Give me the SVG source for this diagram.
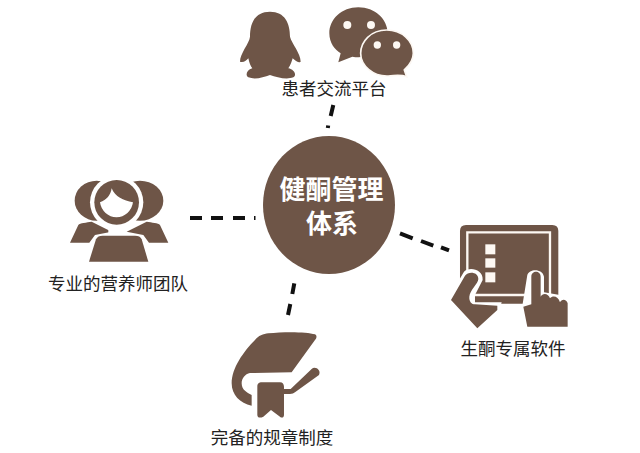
<svg xmlns="http://www.w3.org/2000/svg" width="640" height="453" viewBox="0 0 640 453">
<style>
.b{fill:#6e5547}
.w{fill:#fff}
.c{fill:#fdf8f3}
.d{stroke:#111;stroke-width:4;fill:none}
.l{font-family:"Noto Sans CJK SC","Liberation Sans",sans-serif;font-size:17.500px;fill:#222;text-anchor:middle}
.t{font-family:"Noto Sans CJK SC","Liberation Sans",sans-serif;font-size:26px;font-weight:700;fill:#fff;text-anchor:middle}
</style>
<rect width="640" height="453" fill="#fff"/>
<g id="connectors">
<path class="d" d="M333.300 105L330.700 116M328.200 125.500L327.800 128"/>
<path class="d" d="M190 218H202M211 218H223M233 218H245M254 218H255.500"/>
<path class="d" d="M400 233.300L412.700 238.300M421 241L433.300 245.700M441 247.300L449 250.300"/>
<path class="d" d="M294.300 283.300L292.300 294M290.300 304L288 315"/>
</g>
<g id="center">
<ellipse class="b" cx="329" cy="205" rx="66" ry="69"/>
<text class="t" x="331.500" y="199">健酮管理</text>
<text class="t" x="332" y="233">体系</text>
</g>
<g id="platform">
<g transform="translate(220 0) scale(.3333)">
<path class="b" d="M150 35C105 35 90 70 90 110C88 130 60 160 60 185C70 190 80 180 85 175C88 190 92 198 97 205C80 210 75 225 85 232C105 240 130 232 150 225C170 232 200 240 220 232C232 225 222 208 205 205C212 195 215 185 218 175C225 182 235 190 242 185C242 160 215 130 210 110C210 70 195 35 150 35Z"/>
<path class="b" d="M415 22C365 22 328 58 328 100C328 130 345 150 362 160L355 187L397 170C450 180 503 145 503 100C503 58 465 22 415 22Z"/>
<path class="b" d="M500 90C452 90 422 125 422 160C422 198 460 230 505 228C522 226 545 224 560 230L553 210C570 195 580 180 580 160C580 122 545 90 500 90Z" stroke="#fdf8f3" stroke-width="5"/>
<circle class="c" cx="382" cy="75" r="12"/><circle class="c" cx="453" cy="75" r="12"/>
<circle class="c" cx="472" cy="135" r="11"/><circle class="c" cx="530" cy="135" r="11"/>
</g>
<text class="l" x="334" y="95">患者交流平台</text>
</g>
<g id="team">
<g transform="translate(40 170) scale(.3333)">
<ellipse class="b" cx="170" cy="92" rx="66" ry="60"/>
<ellipse class="b" cx="300" cy="92" rx="70" ry="60"/>
<path class="b" d="M90 218L115 165C120 158 140 158 155 155L215 185L165 195L148 218Z"/>
<path class="b" d="M385 218L360 165C355 158 335 158 320 155L260 185L310 195L327 218Z"/>
<circle class="w" cx="230" cy="97" r="80"/>
<path class="w" d="M205 170H257V200H205Z"/>
<circle class="b" cx="230" cy="97" r="67"/>
<path class="w" d="M180 97C200 90 212 75 215 55C225 80 250 92 279 97A50 52 0 0 1 180 97Z"/>
<path class="b" d="M147 275L168 208C172 200 178 197 188 197H285C295 197 302 200 305 208L325 275Z"/>
</g>
<text class="l" x="118" y="290">专业的营养师团队</text>
</g>
<g id="software">
<g transform="translate(390 215) scale(.3333)">
<path class="b" d="M228 30H487Q505 30 505 48V266H210V48Q210 30 228 30Z"/>
<path d="M232 240V52H480V240Z" fill="none" stroke="#fdf8f3" stroke-width="7"/>
<rect class="c" x="286" y="88" width="30" height="30"/>
<rect class="c" x="286" y="130" width="30" height="28"/>
<rect class="c" x="286" y="172" width="30" height="30"/>
<path class="w" d="M170 258L222 170C235 155 280 160 278 195L255 240V262H335L325 300L250 350Z"/>
<path class="b" d="M183 255L225 182C235 168 265 170 265 192C265 205 240 225 238 245C237 260 245 268 255 268L322 272V285L262 340Z"/>
<path class="w" d="M395 285L412 180C418 160 458 160 462 185V232L540 245L540 345H400Z"/>
<path class="b" d="M400 275L424 268V185C424 165 452 165 452 185V245C458 232 476 235 480 250C488 240 505 243 510 262C515 250 530 252 533 265V335H412Z"/>
</g>
<text class="l" x="513" y="355">生酮专属软件</text>
</g>
<g id="rules">
<g transform="translate(200 275) scale(.3333)">
<path class="b" d="M205 175C250 170 320 170 345 178C352 182 350 190 345 195L275 292L150 294C135 297 125 310 125 325C125 345 140 352 155 360V392C120 385 95 360 95 325C95 280 130 230 165 195C175 182 190 177 205 175Z"/>
<path class="b" d="M252 342H272L335 282C345 272 365 285 357 300L285 352Q280 357 270 357H252Z"/>
<path class="b" d="M172 335C172 325 178 322 185 322H240C248 322 252 328 252 335V420C252 428 245 430 240 425L213 405L190 425C180 430 172 428 172 420Z"/>
</g>
<text class="l" x="272" y="443.500">完备的规章制度</text>
</g>
</svg>
